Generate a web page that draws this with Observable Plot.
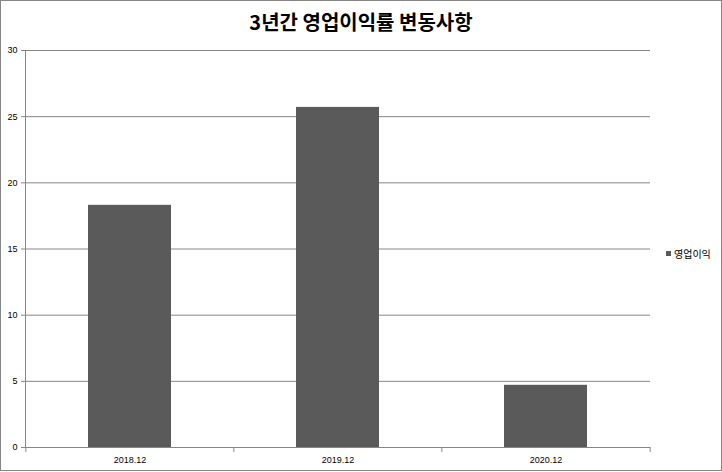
<!DOCTYPE html>
<html>
<head>
<meta charset="utf-8">
<script src="https://cdn.jsdelivr.net/npm/d3@7"></script>
<script src="https://cdn.jsdelivr.net/npm/@observablehq/plot@0.6"></script>
<style>
  body { margin: 0; background: #fff; }
  #wrap { position: relative; width: 722px; height: 472px; overflow: hidden; background: #fff; }
  #border { position: absolute; left: 0; top: 0; width: 722px; height: 471px; box-sizing: border-box; border: 1px solid #868686; pointer-events: none; }
  #title { position: absolute; top: 6px; left: 0; width: 722px; text-align: center; font: bold 20px "Noto Sans CJK KR", sans-serif; line-height: 32px; color: #000; }
  #chart { position: absolute; top: 40px; left: 0; }
  #legend { position: absolute; left: 666px; top: 246px; font: 10px "Noto Sans CJK KR", sans-serif; color: #000; display: flex; align-items: center; }
  #legend .sw { width: 5px; height: 5px; background: #5a5a5a; margin-right: 3px; }
</style>
</head>
<body>
<div id="wrap">
  <div id="title"></div>
  <div id="chart"></div>
  <div id="legend"><div class="sw"></div><span id="legendLabel"></span></div>
  <div id="border"></div>
</div>
<script>
const title = "3년간 영업이익률 변동사항";
const seriesName = "영업이익";
const categories = ["2018.12", "2019.12", "2020.12"];
const values = [18.3, 25.7, 4.7];
const yTicks = [0, 5, 10, 15, 20, 25, 30];

document.getElementById("title").textContent = title;
document.getElementById("legendLabel").textContent = seriesName;

const data = categories.map((c, i) => ({ period: c, value: values[i] }));

const W = 722, ML = 25, MR = 72;
const step = (W - ML - MR) / categories.length;
const gray = "#868686";

const chart = Plot.plot({
  width: W,
  height: 432,
  marginTop: 10,
  marginBottom: 25,
  marginLeft: ML,
  marginRight: MR,
  style: { fontFamily: "'Liberation Sans', Arial, sans-serif", fontSize: "9px", color: "#000", background: "transparent" },
  x: { domain: categories, paddingInner: 0.6, paddingOuter: 0.3, label: null, tickSize: 0, tickPadding: 9 },
  y: { domain: [0, 30], ticks: yTicks, label: null, tickSize: 4, tickPadding: 4 },
  marks: [
    Plot.ruleY(yTicks.filter(t => t > 0), { stroke: gray, strokeOpacity: 1 }),
    Plot.barY(data, { x: "period", y: "value", fill: "#5a5a5a" }),
    Plot.ruleY([0], { stroke: gray, strokeOpacity: 1 }),
    Plot.frame({ anchor: "left", stroke: gray, strokeOpacity: 1 }),
    Plot.ruleX(categories, { x: d => d, y1: 0, y2: 0, insetBottom: -5, dx: -step / 2, stroke: gray, strokeOpacity: 1 }),
    Plot.ruleX(categories.slice(-1), { x: d => d, y1: 0, y2: 0, insetBottom: -5, dx: step / 2, stroke: gray, strokeOpacity: 1 })
  ]
});
chart.querySelectorAll("[aria-label='y-axis tick'] path, [aria-label='y-axis tick']").forEach(e => e.setAttribute("stroke", gray));
document.getElementById("chart").appendChild(chart);
</script>
</body>
</html>
